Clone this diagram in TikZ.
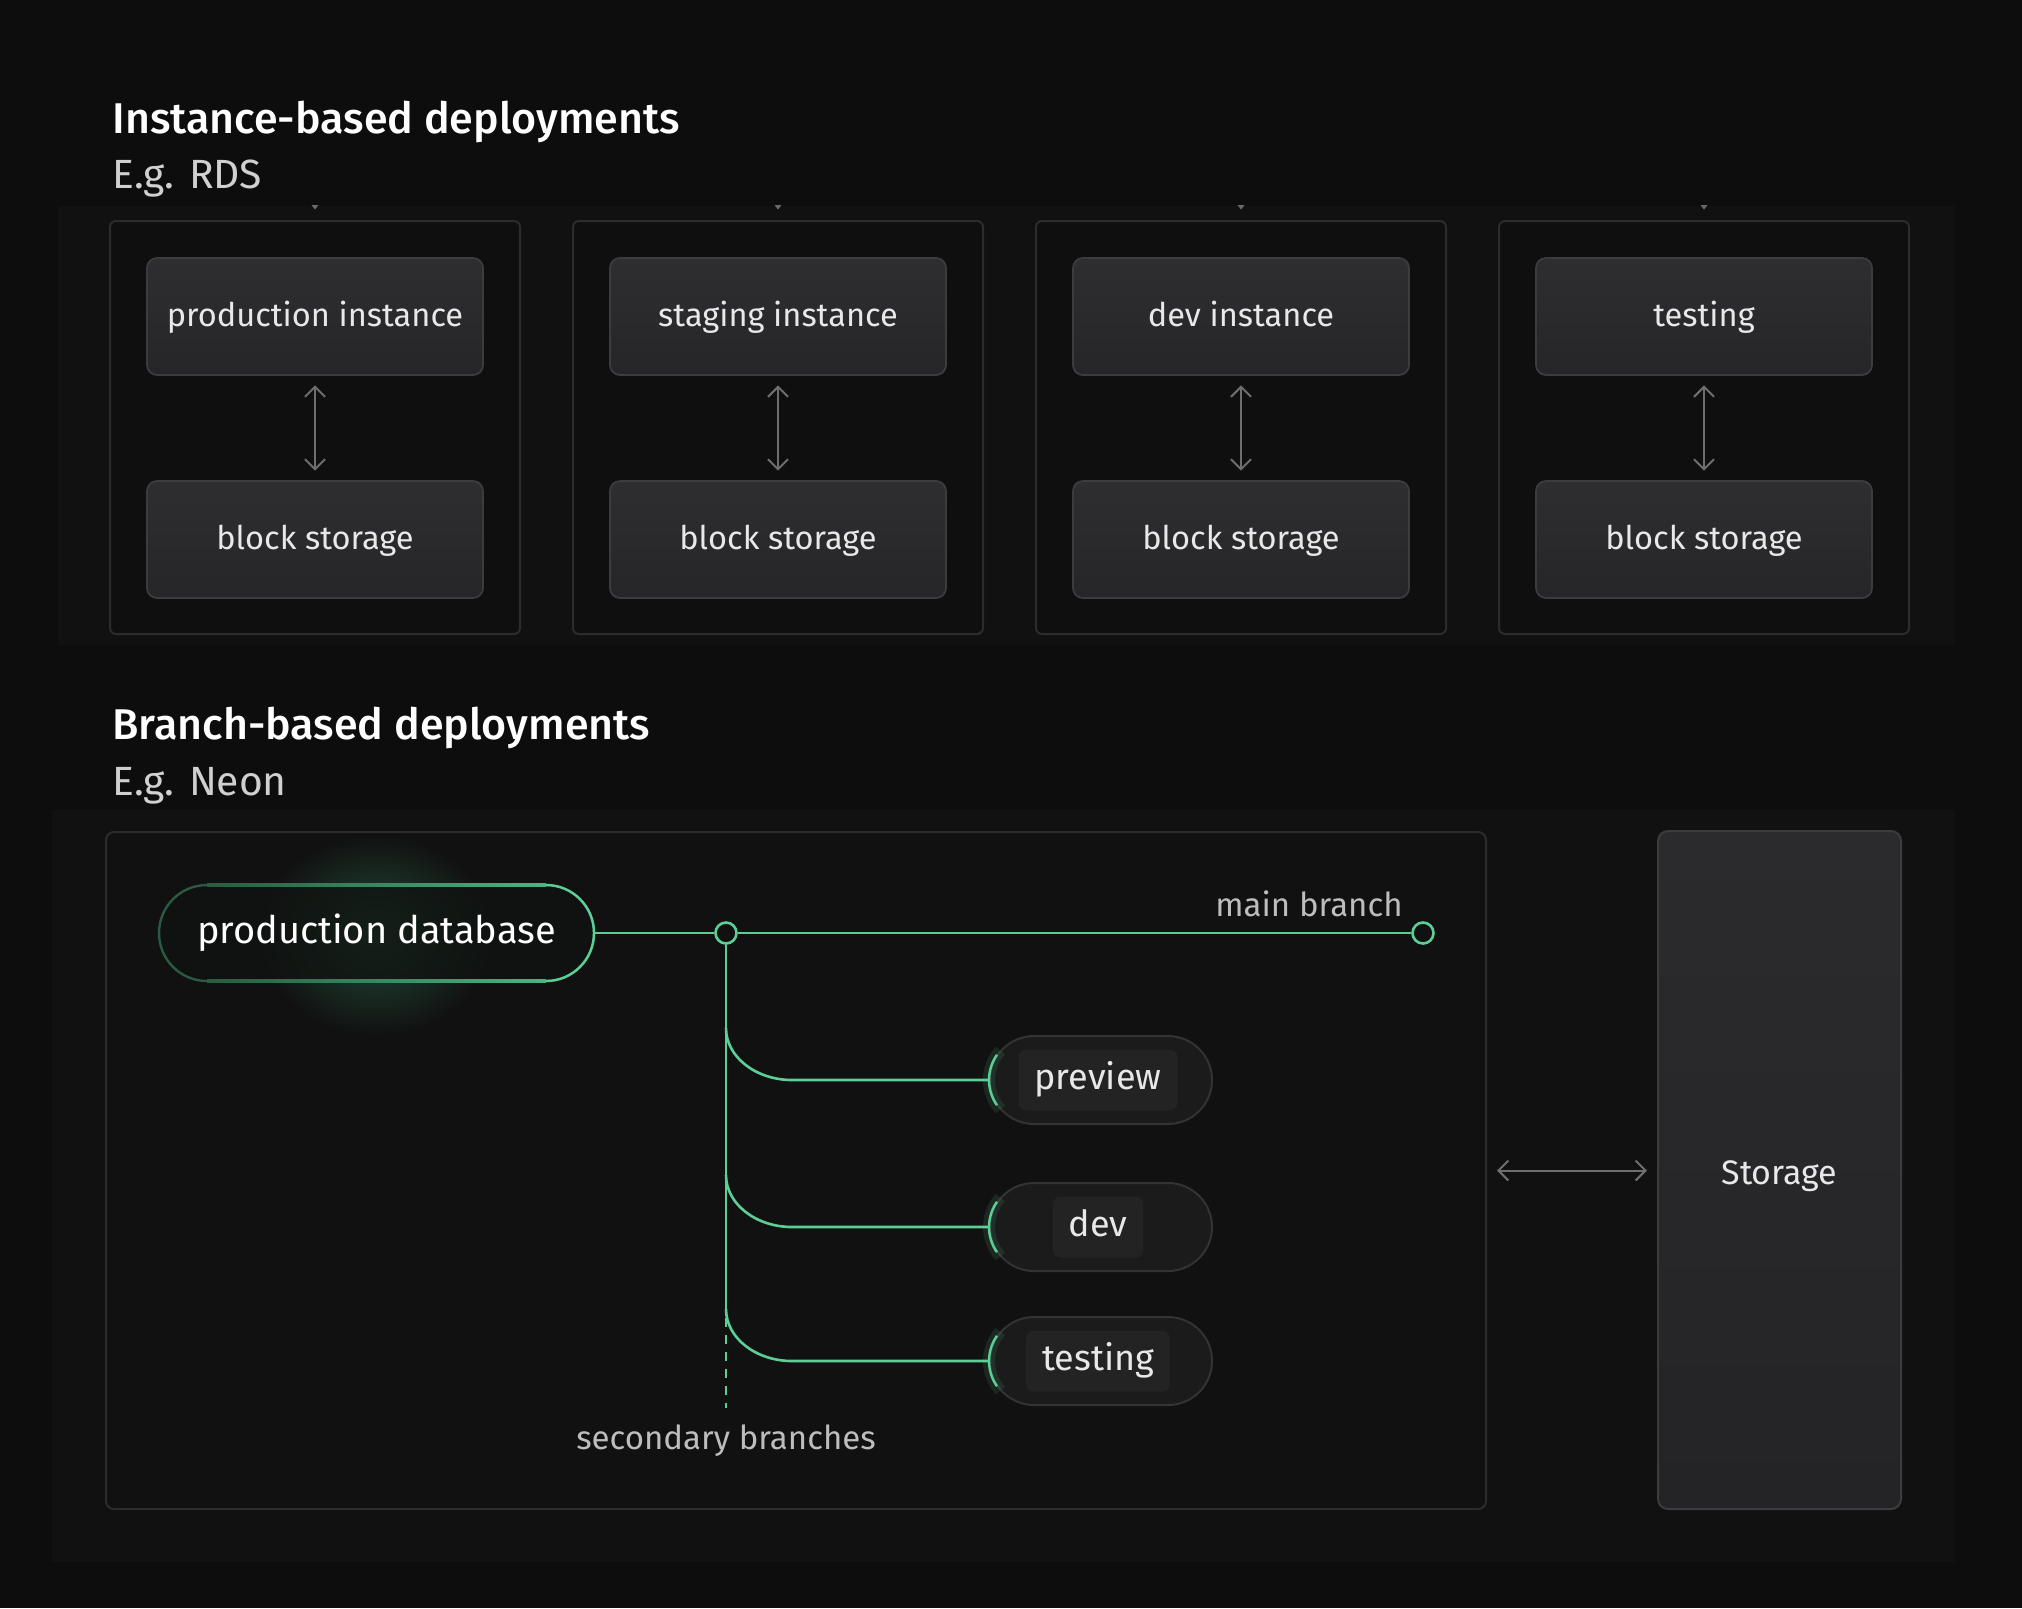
\documentclass[tikz,border=0pt]{standalone}
\usepackage{fontspec}
\setmainfont{Fira Sans}
\newfontfamily\medfont{Fira Sans Medium}
\usetikzlibrary{arrows.meta,shapes.misc}
\definecolor{bgc}{HTML}{0D0D0D}
\definecolor{panelc}{HTML}{111111}
\definecolor{boxfill}{HTML}{0F0F0F}
\definecolor{boxline}{HTML}{2C2C2C}
\definecolor{instTop}{HTML}{2E2E31}
\definecolor{instBot}{HTML}{262628}
\definecolor{instLine}{HTML}{3C3C3F}
\definecolor{txt}{HTML}{E8E8E8}
\definecolor{subc}{HTML}{D0D0D0}
\definecolor{lbl}{HTML}{BDBDBD}
\definecolor{arr}{HTML}{6E6E6E}
\definecolor{grn}{HTML}{5CCF97}
\definecolor{gdim}{HTML}{2A5A43}
\definecolor{glowc}{HTML}{224D38}
\definecolor{pdfill}{HTML}{101311}
\definecolor{pillfill}{HTML}{1B1B1C}
\definecolor{pillline}{HTML}{333335}
\definecolor{pilltxtbg}{HTML}{232324}
\definecolor{stTop}{HTML}{2B2B2E}
\definecolor{stBot}{HTML}{242427}
\definecolor{tickc}{HTML}{6A6A6A}
\begin{document}
\begin{tikzpicture}[x=0.5pt,y=-0.5pt,
  outerbox/.style={rectangle, draw=boxline, line width=1pt, fill=boxfill, rounded corners=3pt, minimum width=205pt, minimum height=206.5pt, inner sep=0pt},
  instbox/.style={rectangle, draw=instLine, line width=0.9pt, top color=instTop, bottom color=instBot, rounded corners=5pt, minimum width=168pt, minimum height=58.5pt, text=txt, font=\fontsize{16.3}{20}\selectfont, inner sep=0pt, text height=12.5pt, text depth=2.5pt},
  grayarr/.style={draw=arr, line width=1pt, {Straight Barb[length=5pt,width=10pt]}-{Straight Barb[length=5pt,width=10pt]}},
  gline/.style={draw=grn, line width=1.3pt},
  gdot/.style={circle, draw=grn, line width=1.3pt, fill=panelc, minimum size=10.5pt, inner sep=0pt},
  pillbox/.style={rounded rectangle, draw=pillline, line width=1pt, fill=pillfill, minimum width=111pt, minimum height=44pt, inner sep=0pt},
  pilltext/.style={rectangle, rounded corners=4pt, fill=pilltxtbg, text=txt, font=\fontsize{18}{21}\selectfont, minimum height=30.5pt, inner xsep=8pt, inner ysep=0pt, text height=12.5pt, text depth=3.5pt},
  heading/.style={anchor=base west, text=white, font=\medfont\fontsize{21.5}{25}\selectfont, inner sep=0pt},
  subhead/.style={anchor=base west, text=subc, font=\fontsize{20.4}{25}\selectfont, inner sep=0pt},
  lbltext/.style={text=lbl, font=\fontsize{16.5}{20}\selectfont, inner sep=0pt}
]
\useasboundingbox (0,0) rectangle (2022,1608);
\fill[bgc] (0,0) rectangle (2022,1608);
\fill[panelc] (58,206) rectangle (1955,645);
\fill[panelc] (52,810) rectangle (1955,1562);

% headings
\node[heading] (h1) at (112,133) {Instance-based deployments};
\node[subhead] (s1) at (112,188) {E.g. RDS};
\node[heading] (h2) at (112,739) {Branch-based deployments};
\node[subhead] (s2) at (112,795) {E.g. Neon};

% instance-based columns
\foreach \i/\t in {0/production instance,1/staging instance,2/dev instance,3/testing}{
  \pgfmathsetmacro\cx{315+463*\i}
  \node[outerbox] (o\i) at (\cx,427.5) {};
  \node[instbox] (a\i) at (\cx,316.5) {\t};
  \node[instbox] (b\i) at (\cx,539.5) {block storage};
  \draw[grayarr, shorten <=4.75pt, shorten >=4.75pt] (a\i) -- (b\i);
  \fill[tickc] (\cx-3.5,205) -- (\cx+3.5,205) -- (\cx,209.5) -- cycle;
}

% branch-based
\node[rectangle, draw=boxline, line width=1pt, fill=panelc, rounded corners=4pt, minimum width=690pt, minimum height=338.5pt, inner sep=0pt] (mainbox) at (796,1170.5) {};
\node[rectangle, draw=instLine, line width=1pt, top color=stTop, bottom color=stBot, rounded corners=5pt, minimum width=121.5pt, minimum height=339pt, text=txt, font=\fontsize{17}{20}\selectfont, inner sep=0pt, text height=14.3pt, text depth=0pt] (storage) at (1779.5,1170) {Storage};
\draw[grayarr, shorten <=5pt, shorten >=5pt] (mainbox.east) -- (storage.west |- mainbox.east);

% production database with glow
\shade[inner color=glowc, outer color=panelc] (376,935) ellipse [x radius=58pt, y radius=50pt];
\node[rounded rectangle, draw=gdim, line width=1.2pt, fill=pdfill, fill opacity=0.78, text opacity=1, minimum width=217.5pt, minimum height=48pt, inner sep=0pt, text=white, font=\fontsize{19}{23}\selectfont] (pd) at (376.5,933) {production database};
\shade[left color=gdim, middle color=grn, right color=grn!75!gdim] (207,883.8) rectangle (546,886.2);
\shade[left color=gdim, middle color=grn, right color=grn!75!gdim] (207,979.8) rectangle (546,982.2);
\draw[grn, line width=1.2pt] (546,885) arc[start angle=90, end angle=-90, radius=24pt];

% main branch
\node[gdot] (j) at (726,933) {};
\node[gdot] (e) at (1423,933) {};
\draw[gline] (pd.east) -- (j.west);
\draw[gline] (j.east) -- (e.west);
\node[lbltext, anchor=base east] (mb) at (1403,916) {main branch};

% secondary branches
\coordinate (vend) at (726,1312);
\coordinate (dtop) at (726,1318);
\coordinate (dbot) at (726,1408);
\draw[gline] (j.south) -- (vend);
\draw[gline, dash pattern=on 4.5pt off 4pt] (dtop) -- (dbot);
\node[lbltext, anchor=base, font=\fontsize{16.5}{20}\selectfont] (sb) at (726,1449) {secondary branches};

\foreach \n/\t/\yc in {pv/preview/1080, dv/dev/1227, ts/testing/1361}{
  \node[pillbox] (\n) at (1101,\yc) {};
  \draw[grn, opacity=0.12, line width=6pt] (\n.west) arc[start angle=180, end angle=138, radius=22pt];
  \draw[grn, opacity=0.12, line width=6pt] (\n.west) arc[start angle=180, end angle=222, radius=22pt];
  \draw[grn, line width=1.2pt] (\n.west) arc[start angle=180, end angle=145, radius=22pt];
  \draw[grn, line width=1.2pt] (\n.west) arc[start angle=180, end angle=215, radius=22pt];
  \node[pilltext] (\n t) at (1098,\yc) {\t};
  \coordinate (\n s) at (726,\yc-52);
  \draw[gline] (\n s) .. controls (726,\yc-23) and (756,\yc) .. (792,\yc) -- (\n.west);
}
\end{tikzpicture}
\end{document}
